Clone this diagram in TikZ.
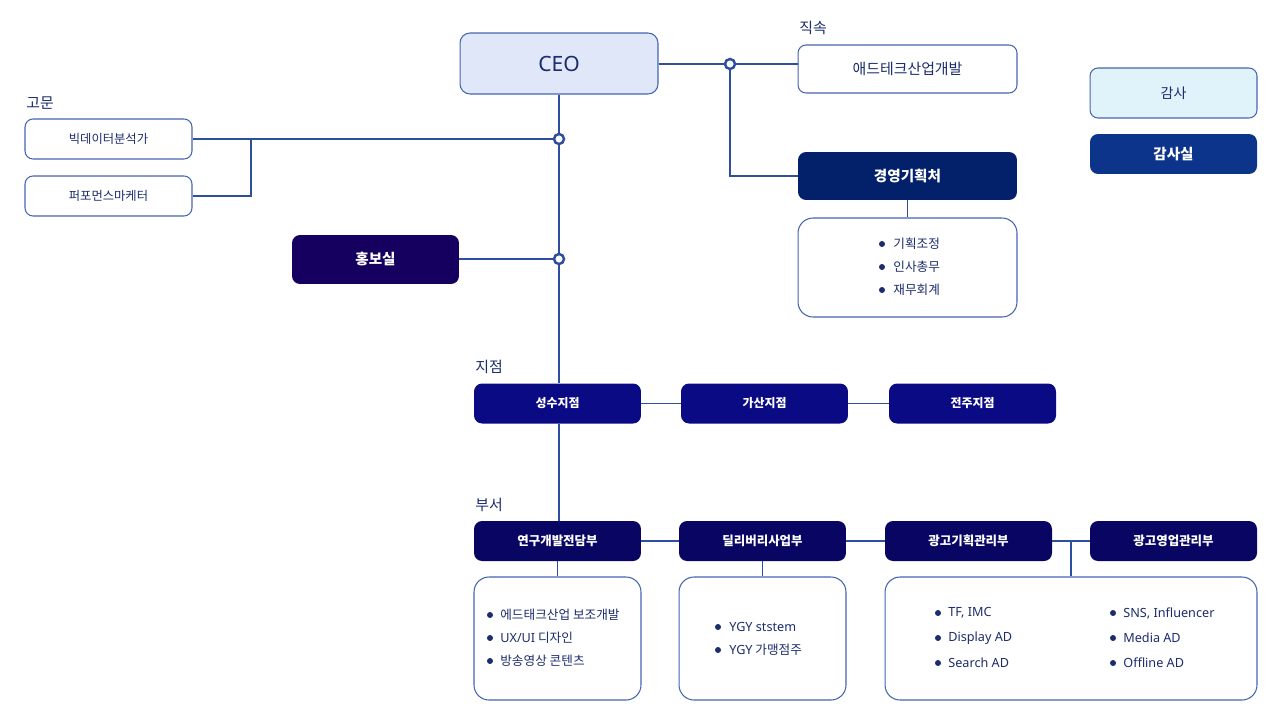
\documentclass[tikz,border=0pt]{standalone}
\usepackage{fontspec}
\setmainfont{Noto Sans CJK KR}
\newfontfamily\latinfont{Noto Sans}
\usetikzlibrary{positioning,calc}

\definecolor{ink}{HTML}{1C2C6C}
\definecolor{wire}{HTML}{2E4E9E}
\definecolor{edge}{HTML}{4565B0}
\definecolor{ceofill}{HTML}{DFE7F8}
\definecolor{auditfill}{HTML}{E1F3FA}
\definecolor{auditdark}{HTML}{0C348A}
\definecolor{planfill}{HTML}{03206A}
\definecolor{prfill}{HTML}{16005F}
\definecolor{branchfill}{HTML}{0A0A85}
\definecolor{deptfill}{HTML}{080662}

\begin{document}
\begin{tikzpicture}[x=0.02cm, y=-0.02cm,
                    every box/.style = {rectangle, rounded corners=0.16cm, minimum width=3.34cm, minimum height=0.8cm, inner sep=0pt, align=center},
                    white box/.style = {draw=edge, line width=0.6pt, fill=white, text=ink, font=\fontsize{7}{8}\selectfont, every box},
                    dark box/.style = {text=white, font=\fontsize{8.3}{9}\selectfont\bfseries, every box},
                    branch box/.style = {fill=branchfill, text=white, font=\fontsize{6.8}{8}\selectfont\bfseries, every box},
                    dept box/.style = {fill=deptfill, text=white, font=\fontsize{7.1}{8}\selectfont\bfseries, every box},
                    list box/.style = {draw=edge, line width=0.6pt, fill=white, rectangle, rounded corners=0.3cm, minimum width=3.34cm, minimum height=2.46cm},
                    section/.style = {text=ink, font=\fontsize{8.5}{9}\selectfont, inner sep=0pt},
                    item/.style = {anchor=west, text=ink, font=\fontsize{7.2}{8}\selectfont, inner sep=0pt},
                    dot/.style = {circle, draw=wire, line width=1.4pt, fill=white, minimum size=0.2cm, inner sep=0pt},
                    wire/.style = {draw=wire, line width=0.6pt}]
    \useasboundingbox (0,0) rectangle (1280,720);
    % top
    \node at (559,63.5) [every box, draw=edge, line width=0.6pt, fill=ceofill, text=ink, rounded corners=0.2cm, minimum width=3.96cm, minimum height=1.22cm, font=\fontsize{12}{14}\selectfont\latinfont] (ceo) {CEO};
    \node at (813,28) [section] (direct label) {직속};
    \node at (907.5,69) [white box, minimum width=4.38cm, minimum height=0.96cm, font=\fontsize{8.5}{9}\selectfont] (adtech) {애드테크산업개발};
    \node at (907.5,176) [dark box, fill=planfill, minimum width=4.38cm, minimum height=0.96cm] (plan) {경영기획처};
    \node at (907.5,267.5) [list box, minimum width=4.38cm, minimum height=1.98cm] (plan sub) {};
    % audit right
    \node at (1173.5,93) [white box, fill=auditfill, minimum height=1cm, font=\fontsize{8}{9}\selectfont] (audit) {감사};
    \node at (1173.5,154) [dark box, fill=auditdark] (audit office) {감사실};
    % advisers left
    \node at (40,103) [section] (adviser label) {고문};
    \node at (108.5,139) [white box] (bigdata) {빅데이터분석가};
    \node at (108.5,196) [white box] (perf) {퍼포먼스마케터};
    \node at (375.5,259.5) [dark box, fill=prfill, minimum height=0.98cm] (pr) {홍보실};
    % branches
    \node at (489,367) [section] (branch label) {지점};
    \node at (557.5,403.5) [branch box] (seongsu) {성수지점};
    \node at (764.5,403.5) [branch box] (gasan) {가산지점};
    \node at (972.5,403.5) [branch box] (jeonju) {전주지점};
    % departments
    \node at (489,505) [section] (dept label) {부서};
    \node at (557.5,541) [dept box] (rnd) {연구개발전담부};
    \node at (762.5,541) [dept box] (deliv) {딜리버리사업부};
    \node at (968.5,541) [dept box] (adplan) {광고기획관리부};
    \node at (1173.5,541) [dept box] (adsales) {광고영업관리부};
    \node at (557.5,638.5) [list box] (rnd sub) {};
    \node at (762.5,638.5) [list box] (deliv sub) {};
    \node at (1071,638.5) [list box, minimum width=7.44cm] (ad sub) {};
    % junctions
    \node at (730,64) [dot] (j1) {};
    \node at (559,139) [dot] (j2) {};
    \node at (559,259) [dot] (j3) {};
    \coordinate (adviser bus) at (251,139);
    \coordinate (ad bus) at (1071,541);
    %connections
    \draw[wire] (ceo.east |- j1) -- (j1) -- (adtech.west |- j1);
    \draw[wire] (j1) |- (plan.west);
    \draw[wire] (plan) -- (plan sub);
    \draw[wire] (j2 |- ceo.south) -- (j2) -- (j3) -- (j3 |- seongsu.north);
    \draw[wire] (bigdata.east) -- (j2);
    \draw[wire] (perf.east) -| (adviser bus);
    \draw[wire] (pr.east |- j3) -- (j3);
    \draw[wire] (seongsu) -- (gasan) -- (jeonju);
    \draw[wire] (j3 |- seongsu.south) -- (j3 |- rnd.north);
    \draw[wire] (rnd) -- (deliv) -- (adplan) -- (adsales);
    \draw[wire] (rnd) -- (rnd sub);
    \draw[wire] (deliv) -- (deliv sub);
    \draw[wire] (ad bus) -- (ad bus |- ad sub.north);
    % lists
    \foreach \t [count=\i] in {기획조정,인사총무,재무회계} {
        \node[item] (plan item\i) at (893,{221+23*\i}) {\t};
        \fill[ink] (882,{221+23*\i}) circle [radius=0.06cm];
    }
    \foreach \t [count=\i] in {에드태크산업 보조개발,{{\latinfont UX/UI} 디자인},방송영상 콘텐츠} {
        \node[item] (rnd item\i) at (500,{592+23*\i}) {\t};
        \fill[ink] (490,{592+23*\i}) circle [radius=0.06cm];
    }
    \foreach \t [count=\i] in {{\latinfont YGY ststem},{{\latinfont YGY} 가맹점주}} {
        \node[item] (deliv item\i) at (729,{604+23*\i}) {\t};
        \fill[ink] (718,{604+23*\i}) circle [radius=0.06cm];
    }
    \foreach \t [count=\i] in {{\latinfont TF, IMC},{\latinfont Display AD},{\latinfont Search AD}} {
        \node[item] (ad left\i) at (948,{588+25*\i}) {\t};
        \fill[ink] (938,{588+25*\i}) circle [radius=0.06cm];
    }
    \foreach \t [count=\i] in {{\latinfont SNS, Influencer},{\latinfont Media AD},{\latinfont Offline AD}} {
        \node[item] (ad right\i) at (1123,{588+25*\i}) {\t};
        \fill[ink] (1113,{588+25*\i}) circle [radius=0.06cm];
    }
\end{tikzpicture}
\end{document}
